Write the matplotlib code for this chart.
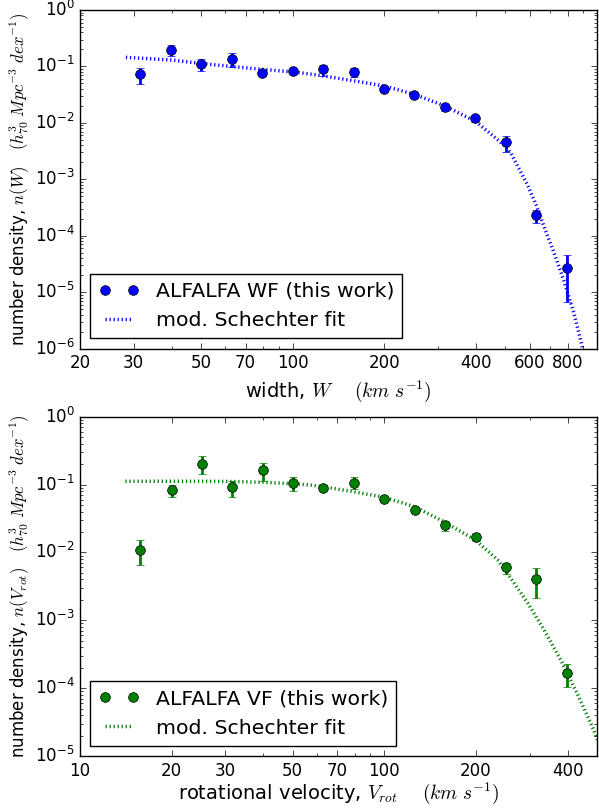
""" ALFALFA width / velocity function figure """
import matplotlib
matplotlib.use('Agg')
import matplotlib.pyplot as plt

plt.style.use('classic')
plt.rcParams['lines.scale_dashes'] = False
plt.rcParams['legend.numpoints'] = 2

# top panel: width function
w_bins = [31.6, 39.8, 50.1, 63.1, 79.4, 100.0, 125.9, 158.5, 199.5, 251.2, 316.2, 398.1, 501.2, 631.0, 794.3]
n_w = [0.072, 0.195, 0.109, 0.134, 0.0755, 0.084, 0.090, 0.0785, 0.040, 0.031, 0.0188, 0.012, 0.0045, 2.3e-4, 2.67e-5]
n_w_lo = [0.049, 0.155, 0.083, 0.099, 0.071, 0.080, 0.068, 0.064, 0.038, 0.028, 0.016, 0.0104, 0.0030, 1.7e-4, 6.6e-6]
n_w_hi = [0.095, 0.24, 0.134, 0.171, 0.080, 0.088, 0.106, 0.095, 0.042, 0.034, 0.021, 0.0133, 0.0059, 2.8e-4, 4.6e-5]
fit_w = [28.3, 40, 50, 63, 79, 100, 113, 126, 158, 200, 251, 316, 400, 450, 501, 521, 591, 631, 670, 723, 778, 840,
         894, 920]
fit_n_w = [0.145, 0.130, 0.113, 0.100, 0.089, 0.080, 0.074, 0.068, 0.056, 0.045, 0.032, 0.020, 0.0105, 0.0062, 0.0038,
           0.0029, 8.0e-4, 3.5e-4, 1.44e-4, 4.9e-5, 1.6e-5, 4.2e-6, 1.07e-6, 5e-7]
w_ticks = [20, 30, 50, 70, 100, 200, 400, 600, 800]

# bottom panel: velocity function
v_bins = [15.8, 20.0, 25.1, 31.6, 39.8, 50.1, 63.1, 79.4, 100.0, 125.9, 158.5, 199.5, 251.2, 316.2, 398.1]
n_v = [0.011, 0.082, 0.20, 0.091, 0.164, 0.107, 0.090, 0.107, 0.062, 0.042, 0.0253, 0.017, 0.0060, 0.0040, 1.69e-4]
n_v_lo = [0.0065, 0.065, 0.145, 0.066, 0.114, 0.080, 0.086, 0.085, 0.059, 0.040, 0.021, 0.0146, 0.0048, 0.0021, 1.05e-4]
n_v_hi = [0.0152, 0.098, 0.26, 0.114, 0.21, 0.13, 0.094, 0.128, 0.065, 0.044, 0.029, 0.0195, 0.0071, 0.0059, 2.3e-4]
fit_v = [14.1, 20, 25, 31.6, 40, 50, 56.5, 63, 79, 100, 126, 158, 200, 236, 261, 296, 335, 380, 430, 488, 510]
fit_n_v = [0.112, 0.112, 0.112, 0.111, 0.108, 0.103, 0.099, 0.093, 0.0785, 0.065, 0.047, 0.028, 0.015, 0.0077,
           0.0041, 0.0018, 7.2e-4, 2.6e-4, 8.4e-5, 2.4e-5, 1.4e-5]
v_ticks = [10, 20, 30, 50, 70, 100, 200, 400]

fig = plt.figure(figsize=(5.99, 8.09), dpi=100, facecolor='w')
ax1 = fig.add_axes([0.1336, 0.5692, 0.8631, 0.4184])
ax2 = fig.add_axes([0.1336, 0.0655, 0.8631, 0.4194])

panels = [
    (ax1, w_bins, n_w, n_w_lo, n_w_hi, fit_w, fit_n_w, 'b', 'ALFALFA WF (this work)',
     (20, 1000), (1e-6, 1), w_ticks, r'width, $W$    $(km\ s^{-1})$',
     r'number density, $n(W)$   $(h_{70}^3\ Mpc^{-3}\ dex^{-1})$', 5),
    (ax2, v_bins, n_v, n_v_lo, n_v_hi, fit_v, fit_n_v, 'g', 'ALFALFA VF (this work)',
     (10, 500), (1e-5, 1), v_ticks, r'rotational velocity, $V_{rot}$    $(km\ s^{-1})$',
     r'number density, $n(V_{rot})$   $(h_{70}^3\ Mpc^{-3}\ dex^{-1})$', 1),
]

for ax, x, y, lo, hi, fx, fy, c, lab, xl, yl, ticks, xlab, ylab, pad in panels:
    yerr = [[v - l for v, l in zip(y, lo)], [h - v for v, h in zip(y, hi)]]
    fit, = ax.plot(fx, fy, color=c, linestyle=(0, (0.9, 2.0)), linewidth=2.5, zorder=1)
    ax.errorbar(x, y, yerr=yerr, fmt='none', ecolor=c, elinewidth=2, capsize=3, zorder=2)
    pts, = ax.plot(x, y, 'o', color=c, markeredgecolor='k', markersize=7, zorder=3)
    ax.set_xscale('log')
    ax.set_yscale('log')
    ax.set_xlim(*xl)
    ax.set_ylim(*yl)
    ax.set_xticks(ticks)
    ax.set_xticklabels([str(t) for t in ticks])
    ax.tick_params(labelsize=12)
    ax.set_xlabel(xlab, fontsize=14, labelpad=pad)
    ax.set_ylabel(ylab, fontsize=12, labelpad=2)
    ax.legend([pts, fit], [lab, 'mod. Schechter fit'], loc='lower left', fontsize=14.7,
              handlelength=2.0, fancybox=False)

fig.savefig('out.png', dpi=100, facecolor='w')
